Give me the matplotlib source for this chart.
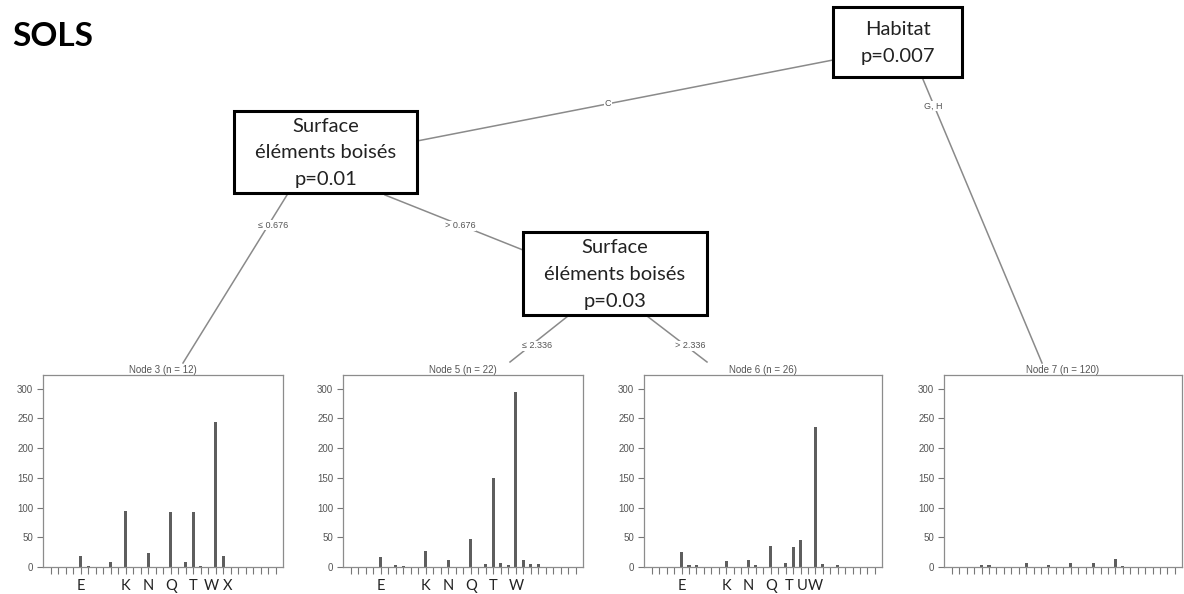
import matplotlib
matplotlib.use("Agg")
import matplotlib.pyplot as plt
from matplotlib.patches import Rectangle

# ---------------------------------------------------------------
# Data
categories = list("ABCDEFGHIJKLMNOPQRSTUVWXYZ") + ["AA", "AB", "AC", "AD", "AE"]

node3_values = [0, 0, 0, 0, 19, 2, 0, 0, 8, 0, 95, 0, 0, 24, 0, 0, 92, 0, 9, 92,
                2, 0, 244, 18, 0, 0, 0, 0, 0, 0, 0]
node5_values = [0, 0, 0, 0, 17, 0, 3, 2, 0, 0, 27, 0, 0, 12, 0, 0, 47, 0, 5, 150,
                7, 3, 295, 12, 5, 5, 0, 0, 0, 0, 0]
node6_values = [0, 0, 0, 0, 25, 3, 3, 0, 0, 0, 10, 0, 0, 12, 3, 0, 36, 0, 7, 34,
                46, 0, 235, 5, 0, 4, 0, 0, 0, 0, 0]
node7_values = [0, 0, 0, 0, 4, 3, 0, 0, 0, 0, 7, 0, 0, 3, 0, 0, 7, 0, 0, 6,
                0, 0, 14, 2, 0, 0, 0, 0, 0, 0, 0]

node_ids = [3, 5, 6, 7]
node_n = [12, 22, 26, 120]
node_values = [node3_values, node5_values, node6_values, node7_values]
node_letters = [list("EKNQTWX"), list("EKNQTW"), list("EKNQTUW"), []]

inner_labels = [["Habitat", "p=0.007"],
                ["Surface", "éléments boisés", "p=0.01"],
                ["Surface", "éléments boisés", "p=0.03"]]
edge_labels = ["C", "G, H", "≤ 0.676", "> 0.676", "≤ 2.336", "> 2.336"]

y_ticks = [0, 50, 100, 150, 200, 250, 300]

# ---------------------------------------------------------------
# Layout (pixels)
W, H = 1184, 594
dpi = 100
fig = plt.figure(figsize=(W / dpi, H / dpi), dpi=dpi)
fig.patch.set_facecolor("white")

tree = fig.add_axes([0, 0, 1, 1])
tree.set_xlim(0, W)
tree.set_ylim(H, 0)
tree.axis("off")

edge_col = "#8a8a8a"
txt_col = "#555555"

# inner node boxes: x0, y0, x1, y1
boxes = [(833, 7, 962, 77), (234, 111, 417, 193), (523, 232, 707, 315)]
# edges: (start, end, label position)
edges = [((833, 60), (417, 141), (608, 104)),
         ((922, 77), (1042, 363), (933, 106)),
         ((287, 195), (183, 363), (273, 225)),
         ((385, 195), (523, 250), (460, 226)),
         ((568, 316), (510, 362), (537, 346)),
         ((647, 316), (707, 362), (690, 346))]

for (p0, p1, lp), lab in zip(edges, edge_labels):
    tree.plot([p0[0], p1[0]], [p0[1], p1[1]], color=edge_col, lw=1.1, zorder=1)
    tree.text(lp[0], lp[1], lab, ha="center", va="center", fontsize=6.5,
              color=txt_col, family="Liberation Sans", zorder=3,
              bbox=dict(facecolor="white", edgecolor="none", pad=0.6))

for (x0, y0, x1, y1), lines in zip(boxes, inner_labels):
    tree.add_patch(Rectangle((x0, y0), x1 - x0, y1 - y0, facecolor="white",
                             edgecolor="black", lw=2.2, zorder=4))
    n = len(lines)
    step = 27
    yc = (y0 + y1) / 2 - step * (n - 1) / 2 + 1
    for k, line in enumerate(lines):
        tree.text((x0 + x1) / 2, yc + k * step, line, ha="center", va="center",
                  fontsize=14.5, family="Lato", color="#222222", zorder=5)

tree.text(12, 37, "SOLS", ha="left", va="center", fontsize=24,
          fontweight="bold", family="Lato", color="black")

# ---------------------------------------------------------------
# terminal node bar plots
panels = [(43, 283), (343, 583), (644, 882), (944, 1182)]
top_px, bottom_px = 375, 567
x_pos = list(range(len(categories)))

for (left, right), nid, n, vals, letters in zip(panels, node_ids, node_n,
                                                node_values, node_letters):
    ax = fig.add_axes([left / W, 1 - bottom_px / H, (right - left) / W,
                       (bottom_px - top_px) / H])
    ax.bar(x_pos, vals, width=0.42, color="#5e5e5e", edgecolor="none")
    ax.set_xlim(-1.05, 30.95)
    ax.set_ylim(0, 323)
    for s in ax.spines.values():
        s.set_color("#8c8c8c")
        s.set_linewidth(0.9)
    ax.set_yticks(y_ticks)
    ax.set_yticklabels([str(t) for t in y_ticks], fontsize=7, color=txt_col,
                       family="Liberation Sans")
    ax.tick_params(axis="y", length=4, width=0.8, color="#777777", pad=3)
    ax.set_xticks(x_pos)
    ax.set_xticklabels([])
    ax.tick_params(axis="x", length=5, width=0.8, color="#777777")
    # category letters written under the selected bars; neighbours pushed apart
    shown = [c if c in letters else None for c in categories]
    for i, c in enumerate(shown):
        if c is None:
            continue
        dx = 0
        if i + 1 < len(shown) and shown[i + 1]:
            dx = -3
        elif i > 0 and shown[i - 1]:
            dx = 1.2 if (i + 2 < len(shown) and shown[i + 2]) else 3
        ax.annotate(c, xy=(i, 0), xycoords="data", xytext=(dx, -8.5),
                    textcoords="offset points", ha="center", va="top",
                    fontsize=10.5, family="Lato", color="#222222",
                    annotation_clip=False)
    ax.set_title("Node %d (n = %d)" % (nid, n), fontsize=7, color=txt_col,
                 family="Liberation Sans", pad=1)

fig.savefig("out.png", dpi=dpi, facecolor="white")
